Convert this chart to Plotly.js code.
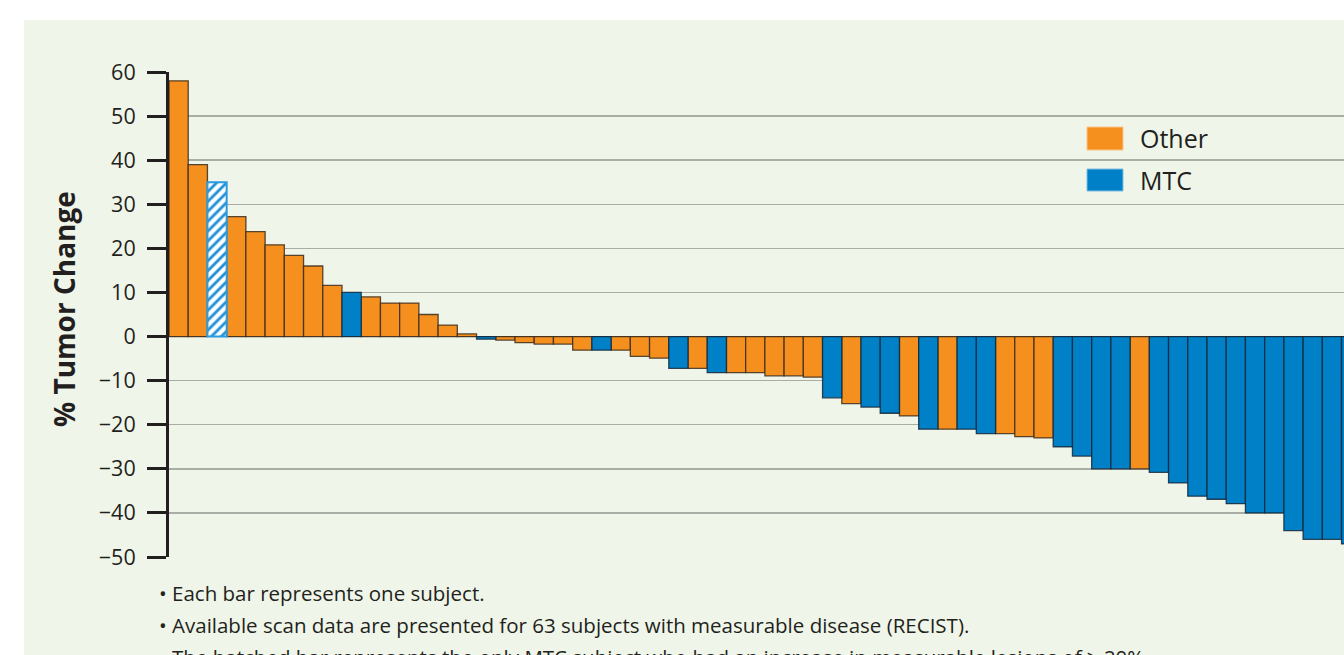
<!DOCTYPE html>
<html>
<head>
<meta charset="utf-8">
<script src="https://cdn.plot.ly/plotly-3.0.1.min.js"></script>
<style>
html,body{margin:0;padding:0;overflow:hidden;background:#ffffff;width:1344px;height:655px;}
#chart{width:1400px;height:655px;}
</style>
</head>
<body>
<div id="chart"></div>
<script>
// ---- data ----
const subjects = Array.from({length: 63}, (_, i) => i + 1);
const tumorChange = [58, 39, 35, 27.2, 23.8, 20.8, 18.4, 16, 11.6, 10, 9, 7.6, 7.6, 5, 2.6, 0.6,
  -0.6, -0.8, -1.4, -1.7, -1.7, -3.1, -3.1, -3.1, -4.5, -4.9, -7.2, -7.2, -8.2, -8.2, -8.2,
  -8.9, -8.9, -9.2, -13.9, -15.2, -16, -17.4, -18, -21, -21, -21, -22, -22, -22.7, -23,
  -25, -27.1, -30, -30, -30, -30.8, -33.2, -36.2, -36.9, -37.9, -40, -40, -44, -46, -46, -47, -48];
const group = ['Other','Other','MTC hatched','Other','Other','Other','Other','Other','Other','MTC',
  'Other','Other','Other','Other','Other','Other','MTC','Other','Other','Other',
  'Other','Other','MTC','Other','Other','Other','MTC','Other','MTC','Other',
  'Other','Other','Other','Other','MTC','Other','MTC','MTC','Other','MTC',
  'Other','MTC','MTC','Other','Other','Other','MTC','MTC','MTC','MTC',
  'Other','MTC','MTC','MTC','MTC','MTC','MTC','MTC','MTC','MTC','MTC','MTC','MTC'];
const yTicks = [60, 50, 40, 30, 20, 10, 0, -10, -20, -30, -40, -50];
const legendLabels = ['Other', 'MTC'];
const yTitle = '% Tumor Change';
const notes = [
  '• Each bar represents one subject.',
  '• Available scan data are presented for 63 subjects with measurable disease (RECIST).',
  '• The hatched bar represents the only MTC subject who had an increase in measurable lesions of ≥ 20%'
];

// ---- style ----
const ORANGE = '#F5901F';
const BLUE = '#0080C6';
const PANEL = '#EFF5E8';
const INK = '#231F20';
const L = 169, T = 72, PW = 1211, PH = 485, FULLW = 1400, FULLH = 655;
const px = x => (x - L) / PW;
const py = y => (T + PH - y) / PH;

function pick(name) {
  const xs = [], ys = [];
  subjects.forEach((s, i) => { if (group[i] === name) { xs.push(s); ys.push(tumorChange[i]); } });
  return {xs, ys};
}
const o = pick('Other'), m = pick('MTC'), h = pick('MTC hatched');
const outline = {color: 'rgba(60,45,30,0.85)', width: 1.3};

const traces = [
  {type: 'bar', x: o.xs, y: o.ys, name: 'Other', marker: {color: ORANGE, line: outline}, hoverinfo: 'skip'},
  {type: 'bar', x: m.xs, y: m.ys, name: 'MTC', marker: {color: BLUE, line: {color: 'rgba(20,40,60,0.85)', width: 1.3}}, hoverinfo: 'skip'},
  {type: 'bar', x: h.xs, y: h.ys, name: 'MTC (hatched)',
   marker: {color: '#ffffff', line: {color: '#2A9BE0', width: 2},
            pattern: {shape: '/', fgcolor: '#1E8FD8', bgcolor: '#ffffff', size: 7, solidity: 0.4}},
   hoverinfo: 'skip'}
];

const shapes = [
  {type: 'rect', xref: 'paper', yref: 'paper', x0: px(24), x1: px(FULLW), y0: py(FULLH + 5), y1: py(20),
   fillcolor: PANEL, line: {width: 0}, layer: 'below'},
  {type: 'rect', xref: 'paper', yref: 'paper', x0: px(1087), x1: px(1123), y0: py(150), y1: py(127),
   fillcolor: ORANGE, line: {color: '#FBC48A', width: 1}, layer: 'above'},
  {type: 'rect', xref: 'paper', yref: 'paper', x0: px(1087), x1: px(1123), y0: py(191), y1: py(169),
   fillcolor: BLUE, line: {color: '#7FBFE3', width: 1}, layer: 'above'}
];

const annotations = [
  {xref: 'paper', yref: 'paper', x: px(1138), y: py(138), xanchor: 'left', yanchor: 'middle',
   text: legendLabels[0], showarrow: false, font: {family: 'Open Sans', size: 25, color: INK}},
  {xref: 'paper', yref: 'paper', x: px(1138), y: py(180), xanchor: 'left', yanchor: 'middle',
   text: legendLabels[1], showarrow: false, font: {family: 'Open Sans', size: 25, color: INK}},
  {xref: 'paper', yref: 'paper', x: px(64), y: py(309), xanchor: 'center', yanchor: 'middle', textangle: -90,
   text: '<b>' + yTitle + '</b>', showarrow: false, font: {family: 'Open Sans', size: 28, color: INK}}
];
const noteY = [593, 625, 657];
notes.forEach((t, i) => annotations.push({
  xref: 'paper', yref: 'paper', x: px(157), y: py(noteY[i]), xanchor: 'left', yanchor: 'middle',
  text: t, showarrow: false, font: {family: 'Open Sans', size: 20.5, color: INK}
}));

const layout = {
  width: FULLW, height: FULLH,
  margin: {l: L, r: FULLW - L - PW, t: T, b: FULLH - T - PH, pad: 0},
  paper_bgcolor: '#ffffff', plot_bgcolor: 'rgba(0,0,0,0)',
  barmode: 'overlay', bargap: 0, showlegend: false,
  xaxis: {range: [0.5, 63.5], showgrid: false, zeroline: false, showticklabels: false, ticks: '', showline: false, fixedrange: true},
  yaxis: {range: [-50, 60], tickvals: yTicks, ticks: 'outside', ticklen: 19, tickwidth: 3, tickcolor: INK,
          showline: true, linewidth: 3, linecolor: INK, ticklabelstandoff: 7,
          tickfont: {family: 'Open Sans', size: 21.5, color: INK},
          showgrid: true, gridcolor: '#A9ADA6', gridwidth: 1.5,
          zeroline: true, zerolinecolor: '#2a2a2a', zerolinewidth: 1.5, fixedrange: true},
  shapes, annotations
};

Plotly.newPlot('chart', traces, layout, {displayModeBar: false, staticPlot: true});
</script>
</body>
</html>
